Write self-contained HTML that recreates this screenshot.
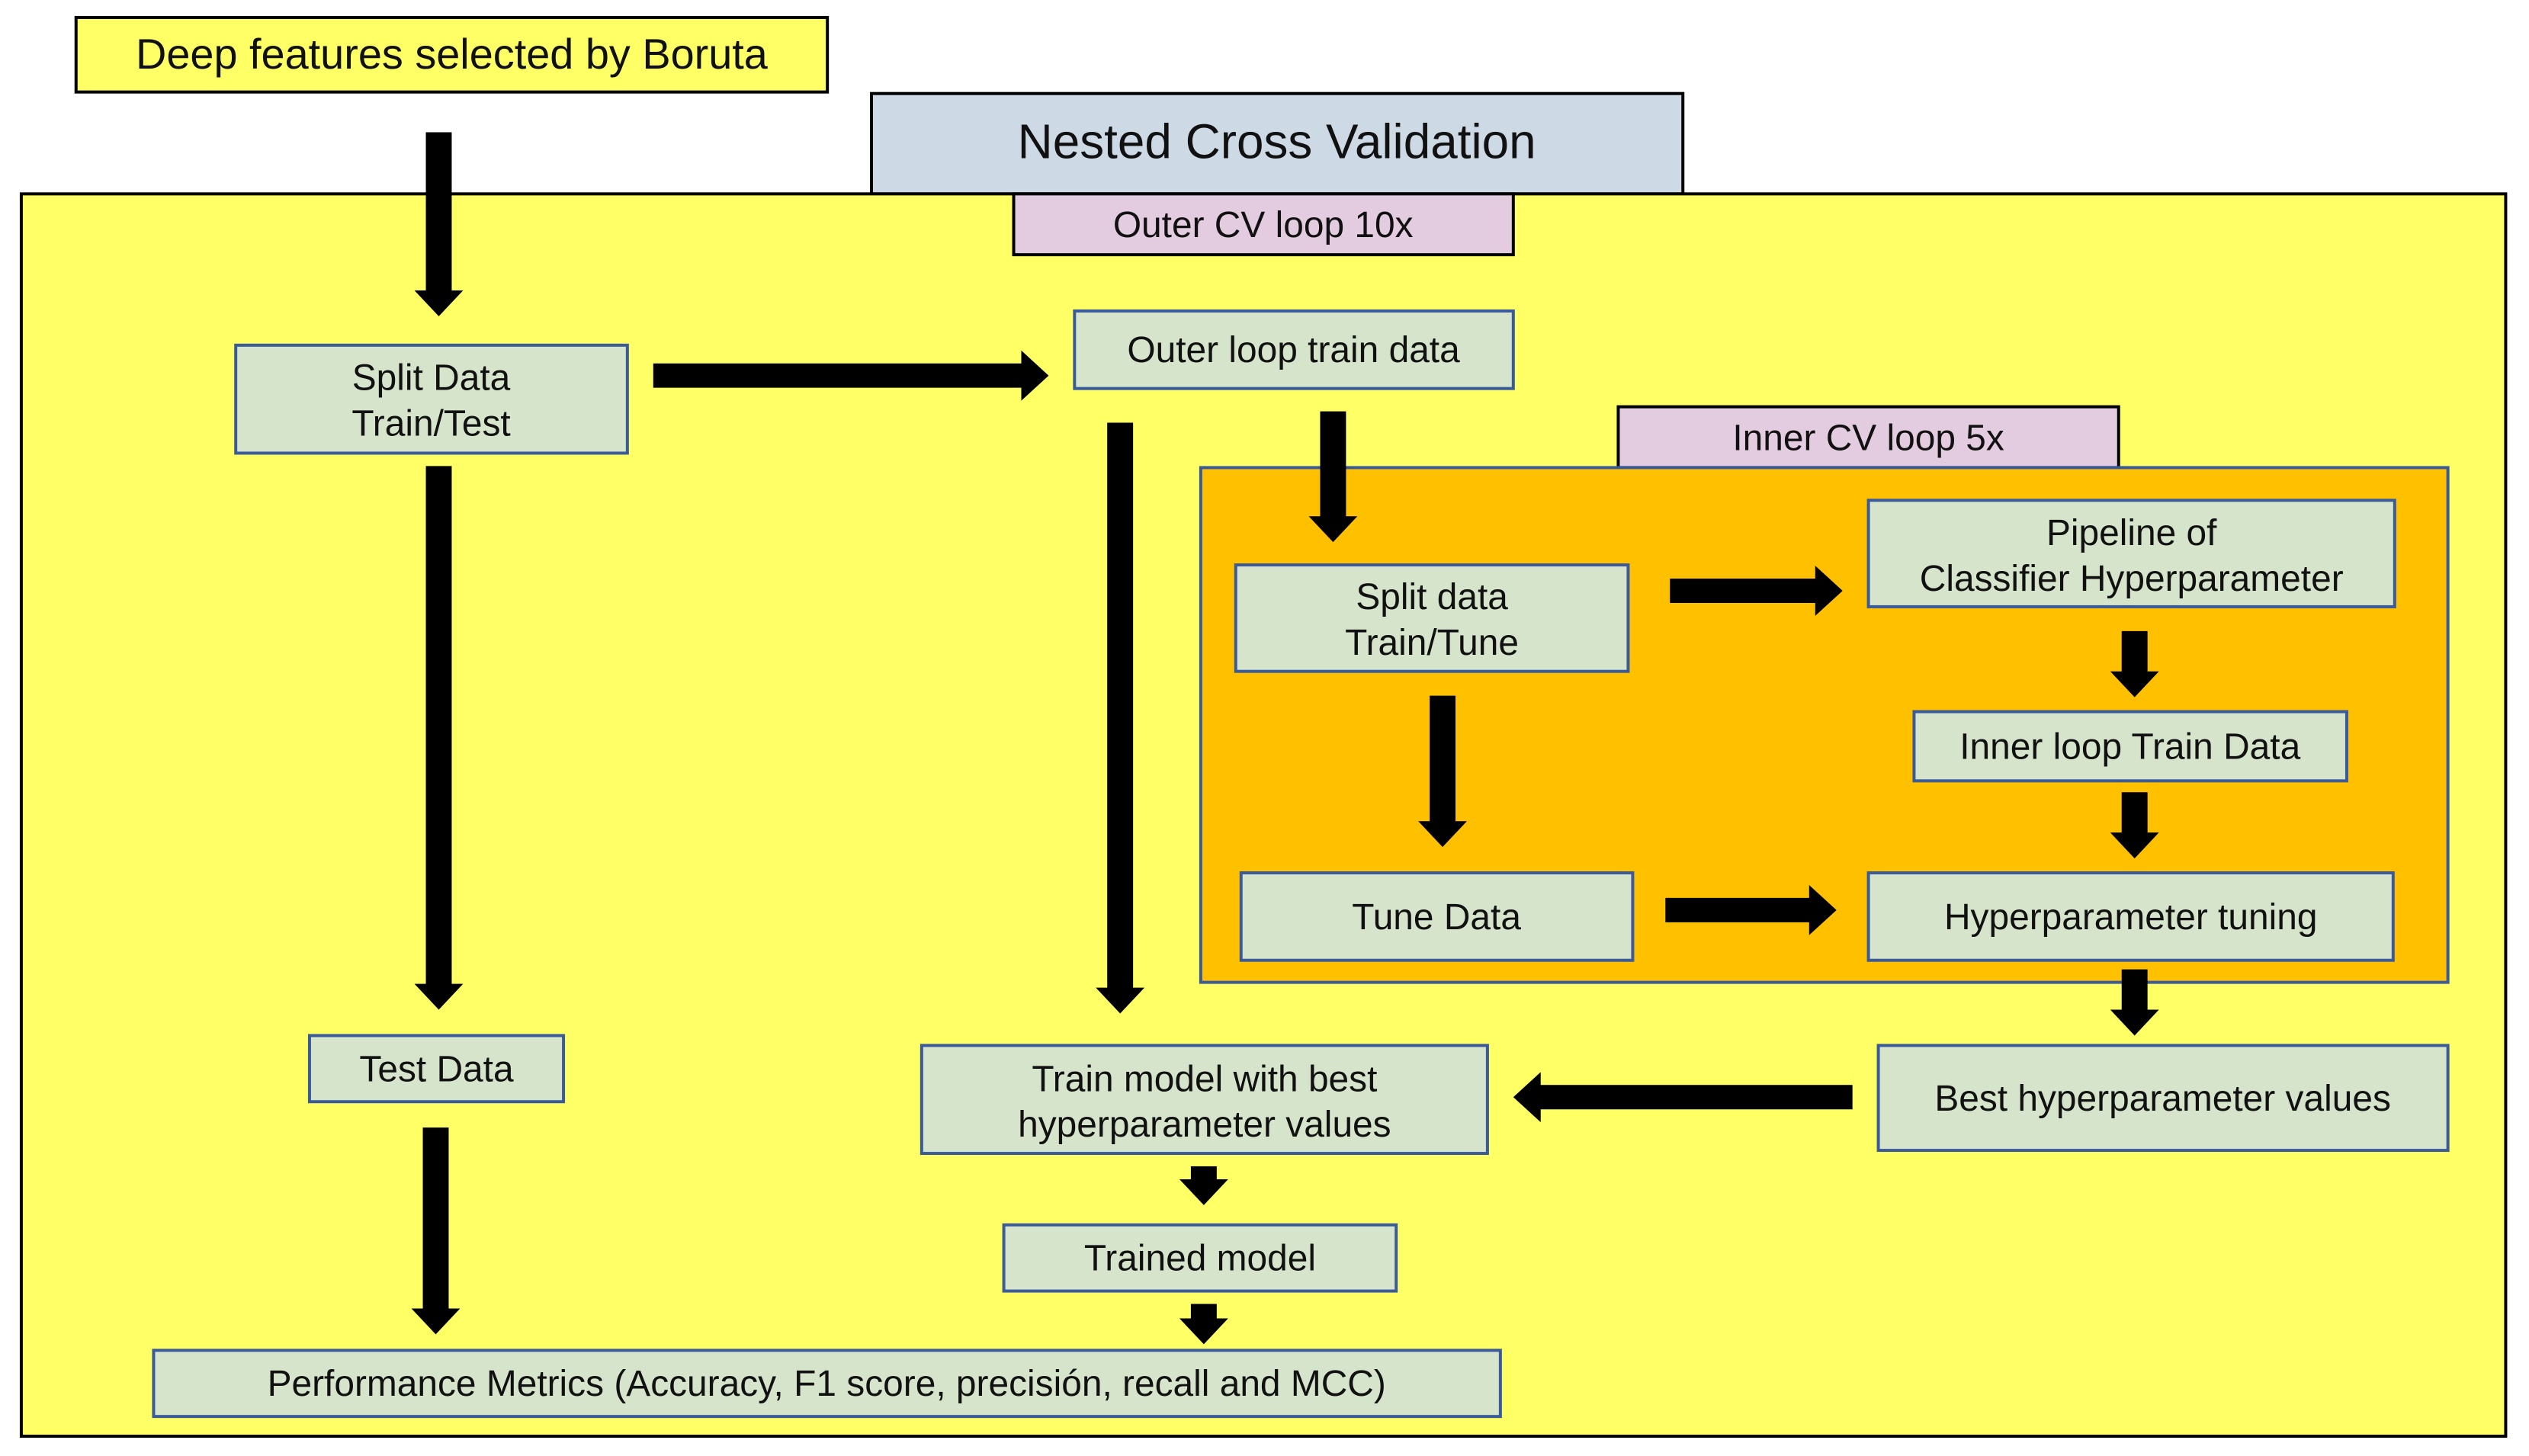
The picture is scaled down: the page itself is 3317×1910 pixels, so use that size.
<!DOCTYPE html>
<html><head><meta charset="utf-8"><style>
html,body{margin:0;padding:0;background:#fff;}
svg{display:block;}
text{font-family:"Liberation Sans",sans-serif;fill:#111;text-anchor:middle;}
</style></head><body>
<svg width="3317" height="1910" viewBox="0 0 3317 1910" xmlns="http://www.w3.org/2000/svg">
<g transform="scale(0.9974)">
<rect x="100" y="23" width="988" height="98" fill="#ffff66" stroke="#000" stroke-width="4"/>
<text x="594" y="90" font-size="56">Deep features selected by Boruta</text>
<rect x="1146" y="123" width="1067" height="132" fill="#cdd9e5" stroke="#000" stroke-width="4"/>
<text x="1679" y="208" font-size="64">Nested Cross Validation</text>
<rect x="28" y="255" width="3267" height="1634" fill="#ffff66" stroke="#000" stroke-width="4"/>
<rect x="1333" y="255" width="657" height="80" fill="#e4cce0" stroke="#000" stroke-width="4"/>
<text x="1661" y="312" font-size="48">Outer CV loop 10x</text>

<g fill="#d5e4cb" stroke="#3a5a9a" stroke-width="4">
<rect x="310" y="454" width="515" height="142"/>
<rect x="1413" y="409" width="577" height="102"/>
</g>
<rect x="2128" y="535" width="658" height="80" fill="#e4cce0" stroke="#000" stroke-width="4"/>
<text x="2457" y="592" font-size="48">Inner CV loop 5x</text>
<rect x="1579" y="615" width="1640" height="677" fill="#ffc000" stroke="#3a5a9a" stroke-width="4"/>
<g fill="#d5e4cb" stroke="#3a5a9a" stroke-width="4">
<rect x="1625" y="743" width="516" height="140"/>
<rect x="2457" y="658" width="692" height="140"/>
<rect x="2517" y="936" width="569" height="91"/>
<rect x="1632" y="1148" width="515" height="115"/>
<rect x="2457" y="1148" width="690" height="115"/>
<rect x="407" y="1362" width="334" height="87"/>
<rect x="1212" y="1375" width="744" height="142"/>
<rect x="2470" y="1375" width="749" height="138"/>
<rect x="1320" y="1611" width="516" height="87"/>
<rect x="202" y="1776" width="1771" height="87"/>
</g>
<g font-size="48">
<text x="567" y="513">Split Data</text><text x="567" y="573">Train/Test</text>
<text x="1701" y="476">Outer loop train data</text>
<text x="1883" y="801">Split data</text><text x="1883" y="861">Train/Tune</text>
<text x="2803" y="717">Pipeline of</text><text x="2803" y="777">Classifier Hyperparameter</text>
<text x="2801" y="998">Inner loop Train Data</text>
<text x="1889" y="1222">Tune Data</text>
<text x="2802" y="1222">Hyperparameter tuning</text>
<text x="574" y="1422">Test Data</text>
<text x="1584" y="1435">Train model with best</text><text x="1584" y="1495">hyperparameter values</text>
<text x="2844" y="1461">Best hyperparameter values</text>
<text x="1578" y="1671">Trained model</text>
<text x="1087" y="1836">Performance Metrics (Accuracy, F1 score, precisión, recall and MCC)</text>
</g>
<g fill="#000">
<polygon points="560,174 594,174 594,382 609,382 577,416 545,382 560,382"/>
<polygon points="560,613 594,613 594,1294 609,1294 577,1328 545,1294 560,1294"/>
<polygon points="1456,556 1490,556 1490,1299 1505,1299 1473,1333 1441,1299 1456,1299"/>
<polygon points="1736,541 1770,541 1770,679 1785,679 1753,713 1721,679 1736,679"/>
<polygon points="2790,830 2824,830 2824,883 2839,883 2807,917 2775,883 2790,883"/>
<polygon points="1880,915 1914,915 1914,1080 1929,1080 1897,1114 1865,1080 1880,1080"/>
<polygon points="2790,1042 2824,1042 2824,1095 2839,1095 2807,1129 2775,1095 2790,1095"/>
<polygon points="2790,1275 2824,1275 2824,1328 2839,1328 2807,1362 2775,1328 2790,1328"/>
<polygon points="556,1483 590,1483 590,1721 605,1721 573,1755 541,1721 556,1721"/>
<polygon points="1566,1534 1600,1534 1600,1551 1615,1551 1583,1585 1551,1551 1566,1551"/>
<polygon points="1566,1715 1600,1715 1600,1734 1615,1734 1583,1768 1551,1734 1566,1734"/>
<polygon points="859,478 1343,478 1343,461 1379,494 1343,527 1343,510 859,510"/>
<polygon points="2196,761 2387,761 2387,744 2423,777 2387,810 2387,793 2196,793"/>
<polygon points="2190,1181 2379,1181 2379,1164 2415,1197 2379,1230 2379,1213 2190,1213"/>
<polygon points="2436,1427 2026,1427 2026,1410 1990,1443 2026,1476 2026,1459 2436,1459"/>
</g>
</g>
</svg>
</body></html>
